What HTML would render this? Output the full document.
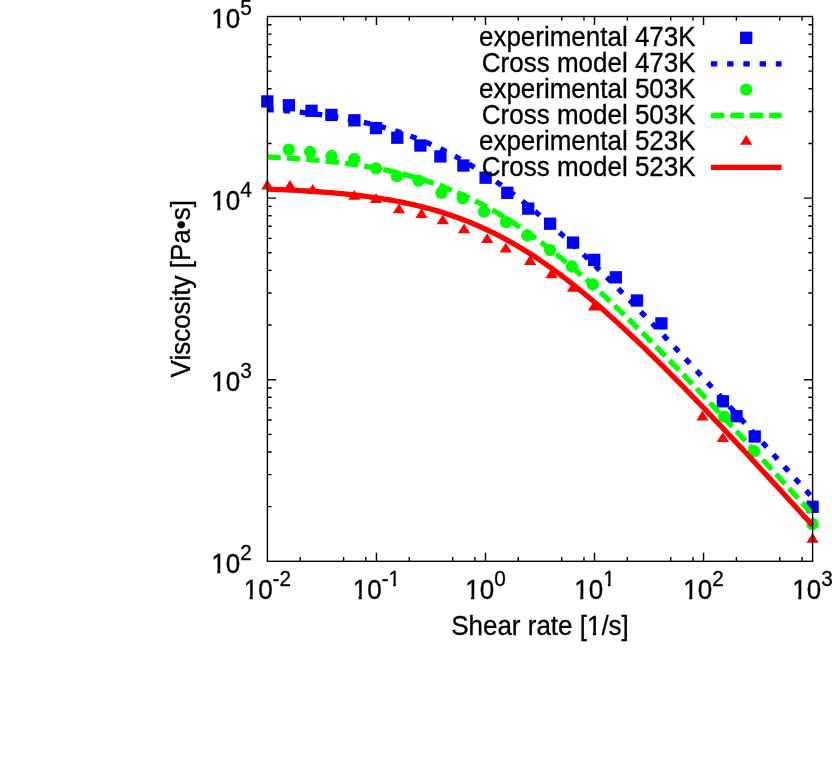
<!DOCTYPE html><html><head><meta charset="utf-8"><title>Viscosity</title><style>html,body{margin:0;padding:0;background:#fff}svg{display:block;will-change:transform;transform:translateZ(0)}text{font-family:"Liberation Sans",sans-serif;fill:#000;stroke:#000;stroke-width:.3px}</style></head><body>
<svg width="832" height="769" viewBox="0 0 832 769">
<rect width="832" height="769" fill="#fff"/>
<path d="M300.22,561.3 v-4.2 M300.22,16.5 v4.2 M343.62,561.3 v-4.2 M343.62,16.5 v4.2 M365.87,561.3 v-4.2 M365.87,16.5 v4.2 M376.44,561.3 v-8.6 M376.44,16.5 v8.6 M409.26,561.3 v-4.2 M409.26,16.5 v4.2 M452.66,561.3 v-4.2 M452.66,16.5 v4.2 M474.91,561.3 v-4.2 M474.91,16.5 v4.2 M485.48,561.3 v-8.6 M485.48,16.5 v8.6 M518.30,561.3 v-4.2 M518.30,16.5 v4.2 M561.70,561.3 v-4.2 M561.70,16.5 v4.2 M583.95,561.3 v-4.2 M583.95,16.5 v4.2 M594.52,561.3 v-8.6 M594.52,16.5 v8.6 M627.34,561.3 v-4.2 M627.34,16.5 v4.2 M670.74,561.3 v-4.2 M670.74,16.5 v4.2 M692.99,561.3 v-4.2 M692.99,16.5 v4.2 M703.56,561.3 v-8.6 M703.56,16.5 v8.6 M736.38,561.3 v-4.2 M736.38,16.5 v4.2 M779.78,561.3 v-4.2 M779.78,16.5 v4.2 M802.03,561.3 v-4.2 M802.03,16.5 v4.2 M267.4,506.63 h4.2 M812.6,506.63 h-4.2 M267.4,474.65 h4.2 M812.6,474.65 h-4.2 M267.4,451.97 h4.2 M812.6,451.97 h-4.2 M267.4,434.37 h4.2 M812.6,434.37 h-4.2 M267.4,419.99 h4.2 M812.6,419.99 h-4.2 M267.4,407.83 h4.2 M812.6,407.83 h-4.2 M267.4,397.30 h4.2 M812.6,397.30 h-4.2 M267.4,388.01 h4.2 M812.6,388.01 h-4.2 M267.4,379.70 h8.6 M812.6,379.70 h-8.6 M267.4,325.03 h4.2 M812.6,325.03 h-4.2 M267.4,293.05 h4.2 M812.6,293.05 h-4.2 M267.4,270.37 h4.2 M812.6,270.37 h-4.2 M267.4,252.77 h4.2 M812.6,252.77 h-4.2 M267.4,238.39 h4.2 M812.6,238.39 h-4.2 M267.4,226.23 h4.2 M812.6,226.23 h-4.2 M267.4,215.70 h4.2 M812.6,215.70 h-4.2 M267.4,206.41 h4.2 M812.6,206.41 h-4.2 M267.4,198.10 h8.6 M812.6,198.10 h-8.6 M267.4,143.43 h4.2 M812.6,143.43 h-4.2 M267.4,111.45 h4.2 M812.6,111.45 h-4.2 M267.4,88.77 h4.2 M812.6,88.77 h-4.2 M267.4,71.17 h4.2 M812.6,71.17 h-4.2 M267.4,56.79 h4.2 M812.6,56.79 h-4.2 M267.4,44.63 h4.2 M812.6,44.63 h-4.2 M267.4,34.10 h4.2 M812.6,34.10 h-4.2 M267.4,24.81 h4.2 M812.6,24.81 h-4.2" stroke="#000" stroke-width="1.4" fill="none"/>
<g><rect x="261.15" y="95.25" width="12.30" height="12.30" fill="#0000ff"/><rect x="282.75" y="99.10" width="12.30" height="12.30" fill="#0000ff"/><rect x="305.35" y="104.65" width="12.30" height="12.30" fill="#0000ff"/><rect x="325.25" y="108.75" width="12.30" height="12.30" fill="#0000ff"/><rect x="348.25" y="114.15" width="12.30" height="12.30" fill="#0000ff"/><rect x="369.85" y="121.95" width="12.30" height="12.30" fill="#0000ff"/><rect x="391.15" y="131.55" width="12.30" height="12.30" fill="#0000ff"/><rect x="414.25" y="139.35" width="12.30" height="12.30" fill="#0000ff"/><rect x="434.25" y="150.25" width="12.30" height="12.30" fill="#0000ff"/><rect x="457.25" y="159.35" width="12.30" height="12.30" fill="#0000ff"/><rect x="479.45" y="171.55" width="12.30" height="12.30" fill="#0000ff"/><rect x="501.15" y="186.65" width="12.30" height="12.30" fill="#0000ff"/><rect x="522.05" y="202.45" width="12.30" height="12.30" fill="#0000ff"/><rect x="543.95" y="217.55" width="12.30" height="12.30" fill="#0000ff"/><rect x="566.85" y="236.45" width="12.30" height="12.30" fill="#0000ff"/><rect x="588.05" y="253.75" width="12.30" height="12.30" fill="#0000ff"/><rect x="609.65" y="271.15" width="12.30" height="12.30" fill="#0000ff"/><rect x="630.85" y="294.35" width="12.30" height="12.30" fill="#0000ff"/><rect x="655.25" y="317.25" width="12.30" height="12.30" fill="#0000ff"/><rect x="716.75" y="395.15" width="12.30" height="12.30" fill="#0000ff"/><rect x="730.35" y="410.05" width="12.30" height="12.30" fill="#0000ff"/><rect x="748.55" y="430.35" width="12.30" height="12.30" fill="#0000ff"/><rect x="806.45" y="500.65" width="12.30" height="12.30" fill="#0000ff"/></g>
<path d="M267.40,109.40 L269.22,109.52 L271.05,109.65 L272.87,109.79 L274.69,109.92 L276.52,110.06 L278.34,110.20 L280.16,110.35 L281.99,110.50 L283.81,110.65 L285.63,110.81 L287.46,110.97 L289.28,111.13 L291.10,111.30 L292.93,111.47 L294.75,111.65 L296.57,111.83 L298.40,112.02 L300.22,112.21 L302.04,112.40 L303.87,112.60 L305.69,112.80 L307.52,113.01 L309.34,113.22 L311.16,113.44 L312.99,113.66 L314.81,113.89 L316.63,114.12 L318.46,114.36 L320.28,114.60 L322.10,114.85 L323.93,115.11 L325.75,115.37 L327.57,115.64 L329.40,115.91 L331.22,116.19 L333.04,116.48 L334.87,116.77 L336.69,117.07 L338.51,117.37 L340.34,117.68 L342.16,118.00 L343.98,118.33 L345.81,118.66 L347.63,119.00 L349.45,119.35 L351.28,119.70 L353.10,120.07 L354.92,120.44 L356.75,120.81 L358.57,121.20 L360.39,121.59 L362.22,122.00 L364.04,122.41 L365.86,122.83 L367.69,123.26 L369.51,123.69 L371.33,124.14 L373.16,124.59 L374.98,125.06 L376.80,125.53 L378.63,126.01 L380.45,126.50 L382.27,127.01 L384.10,127.52 L385.92,128.04 L387.75,128.57 L389.57,129.11 L391.39,129.67 L393.22,130.23 L395.04,130.80 L396.86,131.39 L398.69,131.98 L400.51,132.59 L402.33,133.20 L404.16,133.83 L405.98,134.47 L407.80,135.12 L409.63,135.78 L411.45,136.46 L413.27,137.14 L415.10,137.84 L416.92,138.55 L418.74,139.27 L420.57,140.00 L422.39,140.75 L424.21,141.50 L426.04,142.27 L427.86,143.05 L429.68,143.85 L431.51,144.66 L433.33,145.47 L435.15,146.31 L436.98,147.15 L438.80,148.01 L440.62,148.88 L442.45,149.76 L444.27,150.66 L446.09,151.57 L447.92,152.49 L449.74,153.42 L451.56,154.37 L453.39,155.33 L455.21,156.31 L457.03,157.29 L458.86,158.29 L460.68,159.31 L462.51,160.33 L464.33,161.37 L466.15,162.43 L467.98,163.49 L469.80,164.57 L471.62,165.66 L473.45,166.77 L475.27,167.89 L477.09,169.02 L478.92,170.16 L480.74,171.32 L482.56,172.49 L484.39,173.67 L486.21,174.87 L488.03,176.07 L489.86,177.29 L491.68,178.53 L493.50,179.77 L495.33,181.03 L497.15,182.30 L498.97,183.58 L500.80,184.88 L502.62,186.18 L504.44,187.50 L506.27,188.83 L508.09,190.18 L509.91,191.53 L511.74,192.90 L513.56,194.27 L515.38,195.66 L517.21,197.06 L519.03,198.47 L520.85,199.89 L522.68,201.33 L524.50,202.77 L526.32,204.23 L528.15,205.69 L529.97,207.17 L531.79,208.65 L533.62,210.15 L535.44,211.66 L537.26,213.17 L539.09,214.70 L540.91,216.24 L542.74,217.78 L544.56,219.34 L546.38,220.90 L548.21,222.48 L550.03,224.06 L551.85,225.65 L553.68,227.25 L555.50,228.86 L557.32,230.48 L559.15,232.11 L560.97,233.74 L562.79,235.38 L564.62,237.03 L566.44,238.69 L568.26,240.36 L570.09,242.04 L571.91,243.72 L573.73,245.41 L575.56,247.10 L577.38,248.81 L579.20,250.52 L581.03,252.24 L582.85,253.96 L584.67,255.69 L586.50,257.43 L588.32,259.18 L590.14,260.93 L591.97,262.68 L593.79,264.45 L595.61,266.22 L597.44,267.99 L599.26,269.77 L601.08,271.56 L602.91,273.35 L604.73,275.15 L606.55,276.95 L608.38,278.76 L610.20,280.57 L612.02,282.39 L613.85,284.21 L615.67,286.04 L617.49,287.87 L619.32,289.71 L621.14,291.55 L622.97,293.39 L624.79,295.25 L626.61,297.10 L628.44,298.96 L630.26,300.82 L632.08,302.69 L633.91,304.56 L635.73,306.43 L637.55,308.31 L639.38,310.19 L641.20,312.08 L643.02,313.97 L644.85,315.86 L646.67,317.75 L648.49,319.65 L650.32,321.56 L652.14,323.46 L653.96,325.37 L655.79,327.28 L657.61,329.19 L659.43,331.11 L661.26,333.03 L663.08,334.95 L664.90,336.88 L666.73,338.81 L668.55,340.74 L670.37,342.67 L672.20,344.60 L674.02,346.54 L675.84,348.48 L677.67,350.42 L679.49,352.37 L681.31,354.32 L683.14,356.26 L684.96,358.21 L686.78,360.17 L688.61,362.12 L690.43,364.08 L692.25,366.04 L694.08,368.00 L695.90,369.96 L697.73,371.92 L699.55,373.89 L701.37,375.86 L703.20,377.82 L705.02,379.80 L706.84,381.77 L708.67,383.74 L710.49,385.72 L712.31,387.69 L714.14,389.67 L715.96,391.65 L717.78,393.63 L719.61,395.61 L721.43,397.59 L723.25,399.58 L725.08,401.56 L726.90,403.55 L728.72,405.54 L730.55,407.53 L732.37,409.52 L734.19,411.51 L736.02,413.50 L737.84,415.49 L739.66,417.49 L741.49,419.48 L743.31,421.48 L745.13,423.48 L746.96,425.47 L748.78,427.47 L750.60,429.47 L752.43,431.47 L754.25,433.47 L756.07,435.48 L757.90,437.48 L759.72,439.48 L761.54,441.49 L763.37,443.49 L765.19,445.50 L767.01,447.50 L768.84,449.51 L770.66,451.52 L772.48,453.53 L774.31,455.54 L776.13,457.55 L777.96,459.56 L779.78,461.57 L781.60,463.58 L783.43,465.59 L785.25,467.60 L787.07,469.61 L788.90,471.63 L790.72,473.64 L792.54,475.66 L794.37,477.67 L796.19,479.69 L798.01,481.70 L799.84,483.72 L801.66,485.73 L803.48,487.75 L805.31,489.77 L807.13,491.79 L808.95,493.80 L810.78,495.82 L812.60,497.84" fill="none" stroke="#0000ff" stroke-width="5.3" stroke-dasharray="6.4 9.83"/>
<g><circle cx="288.80" cy="149.60" r="6.15" fill="#00ff00"/><circle cx="310.10" cy="152.00" r="6.15" fill="#00ff00"/><circle cx="331.50" cy="156.00" r="6.15" fill="#00ff00"/><circle cx="354.30" cy="159.10" r="6.15" fill="#00ff00"/><circle cx="376.00" cy="168.40" r="6.15" fill="#00ff00"/><circle cx="396.90" cy="176.20" r="6.15" fill="#00ff00"/><circle cx="418.60" cy="180.60" r="6.15" fill="#00ff00"/><circle cx="441.50" cy="192.80" r="6.15" fill="#00ff00"/><circle cx="462.80" cy="198.30" r="6.15" fill="#00ff00"/><circle cx="484.10" cy="211.70" r="6.15" fill="#00ff00"/><circle cx="506.00" cy="222.10" r="6.15" fill="#00ff00"/><circle cx="527.30" cy="235.50" r="6.15" fill="#00ff00"/><circle cx="550.10" cy="250.10" r="6.15" fill="#00ff00"/><circle cx="571.90" cy="266.50" r="6.15" fill="#00ff00"/><circle cx="592.90" cy="284.50" r="6.15" fill="#00ff00"/><circle cx="724.10" cy="416.70" r="6.15" fill="#00ff00"/><circle cx="754.00" cy="451.20" r="6.15" fill="#00ff00"/><circle cx="812.60" cy="524.20" r="6.15" fill="#00ff00"/></g>
<path d="M267.40,157.00 L269.22,157.09 L271.05,157.18 L272.87,157.27 L274.69,157.36 L276.52,157.46 L278.34,157.55 L280.16,157.65 L281.99,157.76 L283.81,157.86 L285.63,157.97 L287.46,158.08 L289.28,158.19 L291.10,158.31 L292.93,158.42 L294.75,158.54 L296.57,158.67 L298.40,158.80 L300.22,158.93 L302.04,159.06 L303.87,159.20 L305.69,159.34 L307.52,159.48 L309.34,159.63 L311.16,159.78 L312.99,159.93 L314.81,160.09 L316.63,160.25 L318.46,160.41 L320.28,160.58 L322.10,160.76 L323.93,160.93 L325.75,161.11 L327.57,161.30 L329.40,161.49 L331.22,161.69 L333.04,161.88 L334.87,162.09 L336.69,162.30 L338.51,162.51 L340.34,162.73 L342.16,162.95 L343.98,163.18 L345.81,163.42 L347.63,163.66 L349.45,163.90 L351.28,164.15 L353.10,164.41 L354.92,164.67 L356.75,164.94 L358.57,165.21 L360.39,165.49 L362.22,165.78 L364.04,166.07 L365.86,166.37 L367.69,166.68 L369.51,166.99 L371.33,167.31 L373.16,167.64 L374.98,167.97 L376.80,168.31 L378.63,168.66 L380.45,169.02 L382.27,169.38 L384.10,169.75 L385.92,170.13 L387.75,170.52 L389.57,170.91 L391.39,171.32 L393.22,171.73 L395.04,172.15 L396.86,172.58 L398.69,173.02 L400.51,173.46 L402.33,173.92 L404.16,174.38 L405.98,174.86 L407.80,175.34 L409.63,175.83 L411.45,176.34 L413.27,176.85 L415.10,177.37 L416.92,177.90 L418.74,178.45 L420.57,179.00 L422.39,179.56 L424.21,180.14 L426.04,180.72 L427.86,181.32 L429.68,181.92 L431.51,182.54 L433.33,183.17 L435.15,183.81 L436.98,184.46 L438.80,185.12 L440.62,185.80 L442.45,186.48 L444.27,187.18 L446.09,187.89 L447.92,188.61 L449.74,189.34 L451.56,190.09 L453.39,190.85 L455.21,191.62 L457.03,192.40 L458.86,193.19 L460.68,194.00 L462.51,194.82 L464.33,195.65 L466.15,196.50 L467.98,197.35 L469.80,198.22 L471.62,199.11 L473.45,200.00 L475.27,200.91 L477.09,201.83 L478.92,202.77 L480.74,203.72 L482.56,204.68 L484.39,205.65 L486.21,206.64 L488.03,207.64 L489.86,208.65 L491.68,209.68 L493.50,210.72 L495.33,211.77 L497.15,212.83 L498.97,213.91 L500.80,215.00 L502.62,216.11 L504.44,217.22 L506.27,218.35 L508.09,219.50 L509.91,220.65 L511.74,221.82 L513.56,223.00 L515.38,224.19 L517.21,225.40 L519.03,226.62 L520.85,227.85 L522.68,229.10 L524.50,230.35 L526.32,231.62 L528.15,232.90 L529.97,234.19 L531.79,235.50 L533.62,236.82 L535.44,238.14 L537.26,239.48 L539.09,240.84 L540.91,242.20 L542.74,243.58 L544.56,244.96 L546.38,246.36 L548.21,247.77 L550.03,249.19 L551.85,250.62 L553.68,252.06 L555.50,253.51 L557.32,254.98 L559.15,256.45 L560.97,257.93 L562.79,259.43 L564.62,260.93 L566.44,262.44 L568.26,263.97 L570.09,265.50 L571.91,267.04 L573.73,268.60 L575.56,270.16 L577.38,271.73 L579.20,273.31 L581.03,274.90 L582.85,276.50 L584.67,278.10 L586.50,279.72 L588.32,281.34 L590.14,282.97 L591.97,284.61 L593.79,286.26 L595.61,287.92 L597.44,289.58 L599.26,291.25 L601.08,292.93 L602.91,294.61 L604.73,296.31 L606.55,298.01 L608.38,299.72 L610.20,301.43 L612.02,303.15 L613.85,304.88 L615.67,306.61 L617.49,308.36 L619.32,310.10 L621.14,311.86 L622.97,313.62 L624.79,315.38 L626.61,317.15 L628.44,318.93 L630.26,320.71 L632.08,322.50 L633.91,324.29 L635.73,326.09 L637.55,327.90 L639.38,329.70 L641.20,331.52 L643.02,333.34 L644.85,335.16 L646.67,336.99 L648.49,338.82 L650.32,340.66 L652.14,342.50 L653.96,344.35 L655.79,346.20 L657.61,348.05 L659.43,349.91 L661.26,351.78 L663.08,353.64 L664.90,355.51 L666.73,357.39 L668.55,359.26 L670.37,361.15 L672.20,363.03 L674.02,364.92 L675.84,366.81 L677.67,368.71 L679.49,370.60 L681.31,372.50 L683.14,374.41 L684.96,376.32 L686.78,378.23 L688.61,380.14 L690.43,382.05 L692.25,383.97 L694.08,385.89 L695.90,387.82 L697.73,389.74 L699.55,391.67 L701.37,393.60 L703.20,395.54 L705.02,397.47 L706.84,399.41 L708.67,401.35 L710.49,403.29 L712.31,405.24 L714.14,407.18 L715.96,409.13 L717.78,411.08 L719.61,413.04 L721.43,414.99 L723.25,416.95 L725.08,418.90 L726.90,420.86 L728.72,422.83 L730.55,424.79 L732.37,426.75 L734.19,428.72 L736.02,430.69 L737.84,432.66 L739.66,434.63 L741.49,436.60 L743.31,438.57 L745.13,440.55 L746.96,442.52 L748.78,444.50 L750.60,446.48 L752.43,448.46 L754.25,450.44 L756.07,452.42 L757.90,454.41 L759.72,456.39 L761.54,458.38 L763.37,460.37 L765.19,462.35 L767.01,464.34 L768.84,466.33 L770.66,468.32 L772.48,470.32 L774.31,472.31 L776.13,474.30 L777.96,476.30 L779.78,478.29 L781.60,480.29 L783.43,482.29 L785.25,484.28 L787.07,486.28 L788.90,488.28 L790.72,490.28 L792.54,492.28 L794.37,494.28 L796.19,496.29 L798.01,498.29 L799.84,500.29 L801.66,502.30 L803.48,504.30 L805.31,506.31 L807.13,508.31 L808.95,510.32 L810.78,512.33 L812.60,514.34" fill="none" stroke="#00ff00" stroke-width="5.3" stroke-dasharray="13.33 6.12"/>
<g><path d="M267.30,179.70 L273.45,189.50 L261.15,189.50 Z" fill="#ff0000"/><path d="M290.00,180.00 L296.15,189.80 L283.85,189.80 Z" fill="#ff0000"/><path d="M312.80,183.90 L318.95,193.70 L306.65,193.70 Z" fill="#ff0000"/><path d="M354.30,189.90 L360.45,199.70 L348.15,199.70 Z" fill="#ff0000"/><path d="M376.00,193.30 L382.15,203.10 L369.85,203.10 Z" fill="#ff0000"/><path d="M399.00,203.50 L405.15,213.30 L392.85,213.30 Z" fill="#ff0000"/><path d="M421.50,208.30 L427.65,218.10 L415.35,218.10 Z" fill="#ff0000"/><path d="M442.80,214.50 L448.95,224.30 L436.65,224.30 Z" fill="#ff0000"/><path d="M464.10,223.50 L470.25,233.30 L457.95,233.30 Z" fill="#ff0000"/><path d="M487.20,233.20 L493.35,243.00 L481.05,243.00 Z" fill="#ff0000"/><path d="M505.80,242.80 L511.95,252.60 L499.65,252.60 Z" fill="#ff0000"/><path d="M530.10,255.10 L536.25,264.90 L523.95,264.90 Z" fill="#ff0000"/><path d="M551.50,268.50 L557.65,278.30 L545.35,278.30 Z" fill="#ff0000"/><path d="M573.00,282.00 L579.15,291.80 L566.85,291.80 Z" fill="#ff0000"/><path d="M594.00,300.70 L600.15,310.50 L587.85,310.50 Z" fill="#ff0000"/><path d="M702.50,410.80 L708.65,420.60 L696.35,420.60 Z" fill="#ff0000"/><path d="M722.90,432.20 L729.05,442.00 L716.75,442.00 Z" fill="#ff0000"/><path d="M812.60,532.90 L818.75,542.70 L806.45,542.70 Z" fill="#ff0000"/></g>
<path d="M267.40,189.13 L269.22,189.20 L271.05,189.26 L272.87,189.33 L274.69,189.40 L276.52,189.48 L278.34,189.55 L280.16,189.63 L281.99,189.70 L283.81,189.78 L285.63,189.87 L287.46,189.95 L289.28,190.04 L291.10,190.12 L292.93,190.21 L294.75,190.31 L296.57,190.40 L298.40,190.50 L300.22,190.60 L302.04,190.70 L303.87,190.81 L305.69,190.91 L307.52,191.02 L309.34,191.13 L311.16,191.25 L312.99,191.37 L314.81,191.49 L316.63,191.61 L318.46,191.74 L320.28,191.87 L322.10,192.00 L323.93,192.14 L325.75,192.28 L327.57,192.42 L329.40,192.57 L331.22,192.72 L333.04,192.88 L334.87,193.03 L336.69,193.19 L338.51,193.36 L340.34,193.53 L342.16,193.70 L343.98,193.88 L345.81,194.06 L347.63,194.25 L349.45,194.44 L351.28,194.63 L353.10,194.83 L354.92,195.04 L356.75,195.25 L358.57,195.46 L360.39,195.68 L362.22,195.90 L364.04,196.13 L365.86,196.37 L367.69,196.61 L369.51,196.85 L371.33,197.10 L373.16,197.36 L374.98,197.62 L376.80,197.89 L378.63,198.16 L380.45,198.44 L382.27,198.73 L384.10,199.02 L385.92,199.32 L387.75,199.63 L389.57,199.94 L391.39,200.26 L393.22,200.59 L395.04,200.92 L396.86,201.27 L398.69,201.61 L400.51,201.97 L402.33,202.33 L404.16,202.71 L405.98,203.09 L407.80,203.47 L409.63,203.87 L411.45,204.27 L413.27,204.69 L415.10,205.11 L416.92,205.54 L418.74,205.97 L420.57,206.42 L422.39,206.88 L424.21,207.34 L426.04,207.82 L427.86,208.30 L429.68,208.80 L431.51,209.30 L433.33,209.81 L435.15,210.34 L436.98,210.87 L438.80,211.41 L440.62,211.97 L442.45,212.53 L444.27,213.10 L446.09,213.69 L447.92,214.29 L449.74,214.89 L451.56,215.51 L453.39,216.14 L455.21,216.78 L457.03,217.43 L458.86,218.10 L460.68,218.77 L462.51,219.46 L464.33,220.16 L466.15,220.87 L467.98,221.59 L469.80,222.32 L471.62,223.07 L473.45,223.83 L475.27,224.60 L477.09,225.38 L478.92,226.17 L480.74,226.98 L482.56,227.80 L484.39,228.64 L486.21,229.48 L488.03,230.34 L489.86,231.21 L491.68,232.09 L493.50,232.99 L495.33,233.90 L497.15,234.82 L498.97,235.76 L500.80,236.71 L502.62,237.67 L504.44,238.64 L506.27,239.63 L508.09,240.63 L509.91,241.65 L511.74,242.67 L513.56,243.71 L515.38,244.77 L517.21,245.83 L519.03,246.91 L520.85,248.00 L522.68,249.11 L524.50,250.23 L526.32,251.36 L528.15,252.50 L529.97,253.66 L531.79,254.83 L533.62,256.01 L535.44,257.21 L537.26,258.41 L539.09,259.63 L540.91,260.87 L542.74,262.11 L544.56,263.37 L546.38,264.64 L548.21,265.92 L550.03,267.21 L551.85,268.52 L553.68,269.84 L555.50,271.17 L557.32,272.51 L559.15,273.86 L560.97,275.23 L562.79,276.60 L564.62,277.99 L566.44,279.39 L568.26,280.80 L570.09,282.22 L571.91,283.65 L573.73,285.09 L575.56,286.55 L577.38,288.01 L579.20,289.49 L581.03,290.97 L582.85,292.47 L584.67,293.97 L586.50,295.49 L588.32,297.01 L590.14,298.55 L591.97,300.09 L593.79,301.64 L595.61,303.21 L597.44,304.78 L599.26,306.36 L601.08,307.95 L602.91,309.55 L604.73,311.16 L606.55,312.77 L608.38,314.40 L610.20,316.03 L612.02,317.67 L613.85,319.32 L615.67,320.97 L617.49,322.64 L619.32,324.31 L621.14,325.99 L622.97,327.68 L624.79,329.37 L626.61,331.07 L628.44,332.78 L630.26,334.50 L632.08,336.22 L633.91,337.95 L635.73,339.69 L637.55,341.43 L639.38,343.18 L641.20,344.93 L643.02,346.69 L644.85,348.46 L646.67,350.23 L648.49,352.01 L650.32,353.79 L652.14,355.58 L653.96,357.37 L655.79,359.17 L657.61,360.98 L659.43,362.79 L661.26,364.60 L663.08,366.42 L664.90,368.25 L666.73,370.08 L668.55,371.91 L670.37,373.75 L672.20,375.59 L674.02,377.44 L675.84,379.29 L677.67,381.15 L679.49,383.01 L681.31,384.87 L683.14,386.74 L684.96,388.61 L686.78,390.48 L688.61,392.36 L690.43,394.25 L692.25,396.13 L694.08,398.02 L695.90,399.91 L697.73,401.81 L699.55,403.71 L701.37,405.61 L703.20,407.51 L705.02,409.42 L706.84,411.33 L708.67,413.25 L710.49,415.16 L712.31,417.08 L714.14,419.00 L715.96,420.93 L717.78,422.86 L719.61,424.79 L721.43,426.72 L723.25,428.65 L725.08,430.59 L726.90,432.53 L728.72,434.47 L730.55,436.41 L732.37,438.36 L734.19,440.30 L736.02,442.25 L737.84,444.20 L739.66,446.16 L741.49,448.11 L743.31,450.07 L745.13,452.03 L746.96,453.99 L748.78,455.95 L750.60,457.91 L752.43,459.88 L754.25,461.85 L756.07,463.82 L757.90,465.79 L759.72,467.76 L761.54,469.73 L763.37,471.70 L765.19,473.68 L767.01,475.66 L768.84,477.64 L770.66,479.62 L772.48,481.60 L774.31,483.58 L776.13,485.56 L777.96,487.55 L779.78,489.53 L781.60,491.52 L783.43,493.51 L785.25,495.49 L787.07,497.48 L788.90,499.48 L790.72,501.47 L792.54,503.46 L794.37,505.45 L796.19,507.45 L798.01,509.44 L799.84,511.44 L801.66,513.44 L803.48,515.43 L805.31,517.43 L807.13,519.43 L808.95,521.43 L810.78,523.43 L812.60,525.43" fill="none" stroke="#ff0000" stroke-width="5.3"/>
<rect x="740.05" y="31.65" width="12.30" height="12.30" fill="#0000ff"/>
<path d="M710.9,63.8 H781.6" stroke="#0000ff" stroke-width="5.3" stroke-dasharray="6.4 9.83"/>
<circle cx="746.20" cy="89.60" r="6.15" fill="#00ff00"/>
<path d="M710.9,115.5 H781.6" stroke="#00ff00" stroke-width="5.3" stroke-dasharray="13.33 6.12"/>
<path d="M746.20,135.00 L752.35,144.80 L740.05,144.80 Z" fill="#ff0000"/>
<path d="M710.9,167.4 H781.6" stroke="#ff0000" stroke-width="5.3"/>
<text transform="translate(695.60,46.40) scale(1,1.05)" font-size="26" text-anchor="end">experimental 473K</text>
<text transform="translate(695.60,72.40) scale(1,1.05)" font-size="26" text-anchor="end">Cross model 473K</text>
<text transform="translate(695.60,98.20) scale(1,1.05)" font-size="26" text-anchor="end">experimental 503K</text>
<text transform="translate(695.60,124.10) scale(1,1.05)" font-size="26" text-anchor="end">Cross model 503K</text>
<text transform="translate(695.60,150.10) scale(1,1.05)" font-size="26" text-anchor="end">experimental 523K</text>
<text transform="translate(695.60,176.00) scale(1,1.05)" font-size="26" text-anchor="end">Cross model 523K</text>
<rect x="267.4" y="16.5" width="545.20" height="544.80" fill="none" stroke="#000" stroke-width="1.4"/>
<text transform="translate(251.80,572.70) scale(1,1.03)" font-size="26" text-anchor="end">10<tspan font-size="20.8" dy="-12.33">2</tspan></text>
<path d="M211.82,569.10h5.4v5h-5.4z M220.37,569.10h5.6v5h-5.6z" fill="#fff"/>
<text transform="translate(251.80,391.10) scale(1,1.03)" font-size="26" text-anchor="end">10<tspan font-size="20.8" dy="-12.33">3</tspan></text>
<path d="M211.82,387.50h5.4v5h-5.4z M220.37,387.50h5.6v5h-5.6z" fill="#fff"/>
<text transform="translate(251.80,209.50) scale(1,1.03)" font-size="26" text-anchor="end">10<tspan font-size="20.8" dy="-12.33">4</tspan></text>
<path d="M211.82,205.90h5.4v5h-5.4z M220.37,205.90h5.6v5h-5.6z" fill="#fff"/>
<text transform="translate(251.80,27.90) scale(1,1.03)" font-size="26" text-anchor="end">10<tspan font-size="20.8" dy="-12.33">5</tspan></text>
<path d="M211.82,24.30h5.4v5h-5.4z M220.37,24.30h5.6v5h-5.6z" fill="#fff"/>
<text transform="translate(267.40,599.20) scale(1,1.03)" font-size="26" text-anchor="middle">10<tspan font-size="20.8" dy="-13.11">-2</tspan></text>
<path d="M244.20,595.60h5.4v5h-5.4z M252.75,595.60h5.6v5h-5.6z" fill="#fff"/>
<text transform="translate(376.44,599.20) scale(1,1.03)" font-size="26" text-anchor="middle">10<tspan font-size="20.8" dy="-13.11">-1</tspan></text>
<path d="M353.24,595.60h5.4v5h-5.4z M361.79,595.60h5.6v5h-5.6z" fill="#fff"/>
<path d="M388.98,582.70h4.32v4.2h-4.32z M395.86,582.70h4.48v4.2h-4.48z" fill="#fff"/>
<text transform="translate(485.48,599.20) scale(1,1.03)" font-size="26" text-anchor="middle">10<tspan font-size="20.8" dy="-13.11">0</tspan></text>
<path d="M465.74,595.60h5.4v5h-5.4z M474.29,595.60h5.6v5h-5.6z" fill="#fff"/>
<text transform="translate(594.52,599.20) scale(1,1.03)" font-size="26" text-anchor="middle">10<tspan font-size="20.8" dy="-13.11">1</tspan></text>
<path d="M574.78,595.60h5.4v5h-5.4z M583.33,595.60h5.6v5h-5.6z" fill="#fff"/>
<path d="M603.59,582.70h4.32v4.2h-4.32z M610.47,582.70h4.48v4.2h-4.48z" fill="#fff"/>
<text transform="translate(703.56,599.20) scale(1,1.03)" font-size="26" text-anchor="middle">10<tspan font-size="20.8" dy="-13.11">2</tspan></text>
<path d="M683.82,595.60h5.4v5h-5.4z M692.37,595.60h5.6v5h-5.6z" fill="#fff"/>
<text transform="translate(812.60,599.20) scale(1,1.03)" font-size="26" text-anchor="middle">10<tspan font-size="20.8" dy="-13.11">3</tspan></text>
<path d="M792.86,595.60h5.4v5h-5.4z M801.41,595.60h5.6v5h-5.6z" fill="#fff"/>
<text transform="translate(540.00,634.80) scale(1,1.05)" font-size="26" text-anchor="middle">Shear rate [1/s]</text>
<path d="M587.47,631.20h5.4v5h-5.4z M596.02,631.20h5.6v5h-5.6z" fill="#fff"/>
<text transform="translate(190.10,288.70) rotate(-90) scale(1,1.05)" font-size="26" text-anchor="middle">Viscosity [Pa•s]</text>
</svg></body></html>
